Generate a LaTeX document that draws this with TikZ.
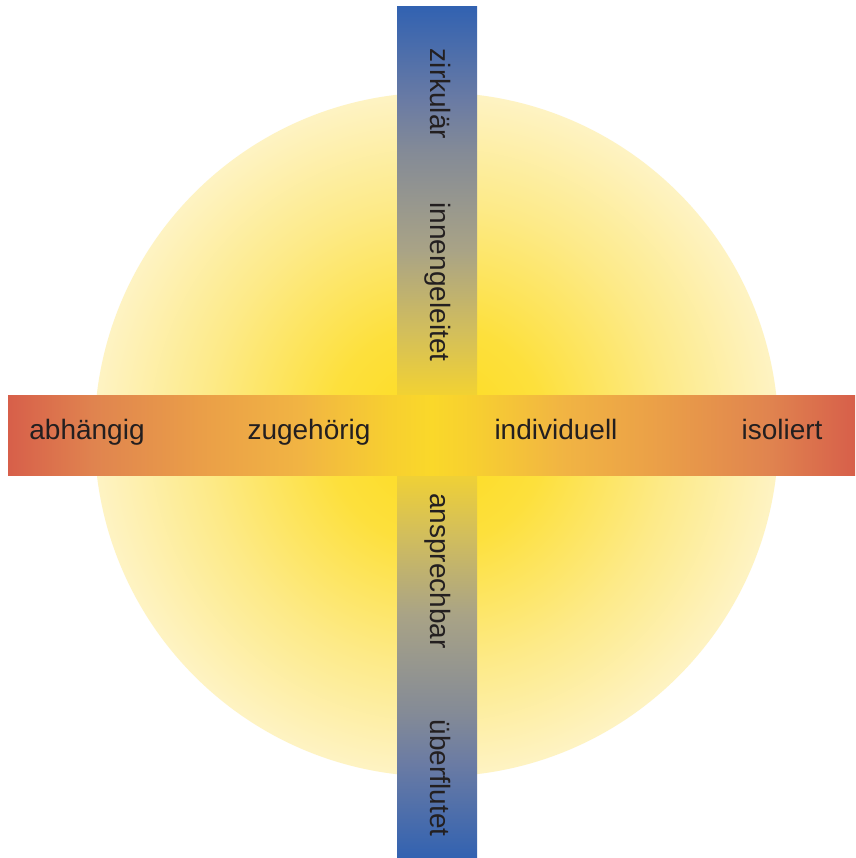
\documentclass[tikz,border=0pt]{standalone}
\usepackage{fontspec}
\setmainfont{Liberation Sans}
\definecolor{sunin}{HTML}{FDDB1C}
\definecolor{sunA}{HTML}{FDE03C}
\definecolor{sunB}{HTML}{FDEA88}
\definecolor{sunout}{HTML}{FEF3C3}
\definecolor{vb0}{HTML}{3262B1}
\definecolor{vb1}{HTML}{6A7BA4}
\definecolor{vb2}{HTML}{838A97}
\definecolor{vb3}{HTML}{A9A386}
\definecolor{vb4}{HTML}{D2BE5C}
\definecolor{vb5}{HTML}{F2D232}
\definecolor{vb6}{HTML}{F8D628}
\definecolor{hb0}{HTML}{D75F4A}
\definecolor{hb1}{HTML}{E0844F}
\definecolor{hb2}{HTML}{EA9E48}
\definecolor{hb3}{HTML}{F1B443}
\definecolor{hb4}{HTML}{F7CF30}
\definecolor{hb5}{HTML}{FAD82A}
\definecolor{txt}{HTML}{231F20}
\pgfdeclareradialshading{sun}{\pgfpoint{0bp}{0bp}}{color(0bp)=(sunin); color(8bp)=(sunA); color(17bp)=(sunB); color(25bp)=(sunout); color(50bp)=(sunout)}
\pgfdeclareverticalshading{vbar}{100bp}{color(0bp)=(vb0); color(25bp)=(vb0); color(30.5bp)=(vb1); color(33.4bp)=(vb2); color(39.3bp)=(vb3); color(44bp)=(vb4); color(47.8bp)=(vb5); color(50bp)=(vb6); color(52.2bp)=(vb5); color(56bp)=(vb4); color(60.7bp)=(vb3); color(66.6bp)=(vb2); color(69.5bp)=(vb1); color(75bp)=(vb0); color(100bp)=(vb0)}
\pgfdeclarehorizontalshading{hbar}{100bp}{color(0bp)=(hb0); color(25bp)=(hb0); color(30.1bp)=(hb1); color(36.3bp)=(hb2); color(42.2bp)=(hb3); color(47.5bp)=(hb4); color(50bp)=(hb5); color(52.5bp)=(hb4); color(57.8bp)=(hb3); color(63.7bp)=(hb2); color(69.9bp)=(hb1); color(75bp)=(hb0); color(100bp)=(hb0)}
\tikzset{lab/.style={text=txt, font=\fontsize{28}{32}\selectfont, inner sep=0pt, anchor=base},
vlab/.style={lab, rotate=-90}}
\begin{document}
\begin{tikzpicture}[x=1pt,y=-1pt]
\useasboundingbox (0,0) rectangle (855,858);
\fill[white] (0,0) rectangle (855,858);
\shade[shading=sun] (436.5,434.5) circle[radius=342];
\shade[shading=vbar] (397,7) rectangle (477,858);
\shade[shading=hbar] (8,395) rectangle (855,475);
\node[lab] (a) at (87,439) {abhängig};
\node[lab] (z) at (309,439) {zugehörig};
\node[lab] (i) at (556,439) {individuell};
\node[lab] (s) at (782,439) {isoliert};
\node[vlab] (k) at (430,94) {zirkulär};
\node[vlab] (g) at (430,282) {innengeleitet};
\node[vlab] (b) at (430,571) {ansprechbar};
\node[vlab] (u) at (430,778) {überflutet};
\end{tikzpicture}
\end{document}
